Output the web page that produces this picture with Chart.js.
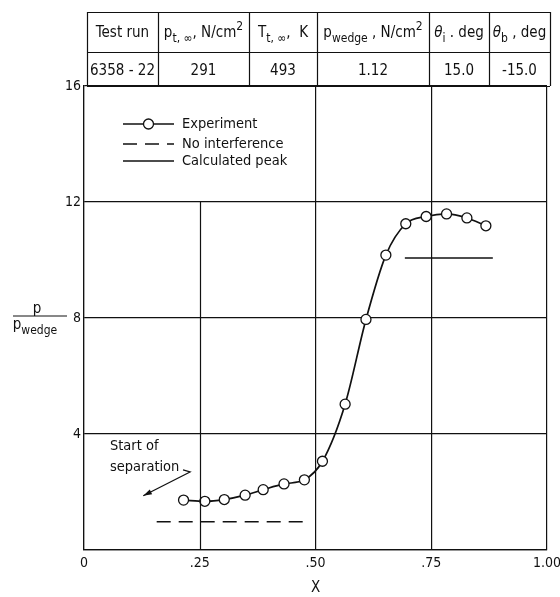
<!DOCTYPE html>
<html><head><meta charset="utf-8">
<script src="https://cdn.jsdelivr.net/npm/chart.js@4.4.1/dist/chart.umd.min.js"></script>
<style>html,body{margin:0;padding:0;background:#fff;overflow:hidden;}canvas{display:block;}</style>
</head><body>
<canvas id="c" width="560" height="597"></canvas>
<script>
// ---- data ----
const expX = [0.215, 0.261, 0.303, 0.348, 0.387, 0.432, 0.476, 0.515, 0.564, 0.609, 0.652, 0.695, 0.739, 0.783, 0.827, 0.868];
const expY = [1.72, 1.68, 1.74, 1.89, 2.08, 2.28, 2.42, 3.06, 5.03, 7.95, 10.17, 11.25, 11.50, 11.59, 11.45, 11.18];
const noInterfX = [0.157, 0.484];
const noInterfY = [0.97, 0.97];
const peakX = [0.693, 0.883];
const peakY = [10.07, 10.07];
const xTickLabels = ['0', '.25', '.50', '.75', '1.00'];
const yTickLabels = ['', '4', '8', '12', '16'];
const legendLabels = ['Experiment', 'No interference', 'Calculated peak'];
const tableHeaders = [
  [{t:'Test run'}],
  [{t:'p'},{t:'t, \u221E',s:'sub'},{t:', N/cm'},{t:'2',s:'sup'}],
  [{t:'T'},{t:'t, \u221E',s:'sub'},{t:',  K'}],
  [{t:'p'},{t:'wedge',s:'sub'},{t:' , N/cm'},{t:'2',s:'sup'}],
  [{t:'\u03B8',i:true},{t:'i',s:'sub'},{t:' . deg'}],
  [{t:'\u03B8',i:true},{t:'b',s:'sub'},{t:' , deg'}]
];
const tableValues = ['6358 - 22', '291', '493', '1.12', '15.0', '-15.0'];
const annotText = ['Start of', 'separation'];
const annotPos = [[0.056, 3.57], [0.056, 2.85]];
const arrowFrom = [0.229, 2.69];
const arrowTo = [0.128, 1.87];

const FONT = "'Liberation Sans Narrow','DejaVu Sans Condensed','Liberation Sans',sans-serif";
const INK = '#111';

function drawRich(ctx, segs, cx, by, size) {
  const fontOf = (sg) => {
    const sz = sg.s ? Math.round(size * 0.8) : size;
    return (sg.i ? 'italic ' : '') + sz + 'px ' + FONT;
  };
  let w = 0;
  segs.forEach(sg => { ctx.font = fontOf(sg); w += ctx.measureText(sg.t).width; });
  let x = cx - w / 2;
  ctx.textAlign = 'left';
  ctx.textBaseline = 'alphabetic';
  segs.forEach(sg => {
    ctx.font = fontOf(sg);
    const dy = sg.s === 'sub' ? size * 0.32 : (sg.s === 'sup' ? -size * 0.45 : 0);
    ctx.fillText(sg.t, x, by + dy);
    x += ctx.measureText(sg.t).width;
  });
}

const decor = {
  id: 'decor',
  afterDraw(chart) {
    const ctx = chart.ctx, xs = chart.scales.x, ys = chart.scales.y, ca = chart.chartArea;
    ctx.save();
    ctx.strokeStyle = INK; ctx.fillStyle = INK; ctx.lineWidth = 1.2;
    // partial .25 grid line (below legend)
    const gx = Math.round(xs.getPixelForValue(0.25)) + 0.5;
    ctx.beginPath(); ctx.moveTo(gx, ys.getPixelForValue(12)); ctx.lineTo(gx, ys.getPixelForValue(0)); ctx.stroke();

    // table
    const cols = [87, 158, 249, 317, 429, 489, 550];
    const rows = [12, 52, ca.top];
    ctx.lineWidth = 1.2;
    ctx.beginPath();
    rows.forEach(r => { ctx.moveTo(cols[0], r + 0.5); ctx.lineTo(cols[6], r + 0.5); });
    cols.forEach(c => { ctx.moveTo(c + 0.5, rows[0]); ctx.lineTo(c + 0.5, rows[2]); });
    ctx.stroke();
    for (let i = 0; i < 6; i++) {
      const cx = (cols[i] + cols[i + 1]) / 2;
      drawRich(ctx, tableHeaders[i], cx, 37, 15);
      ctx.font = '15px ' + FONT; ctx.textAlign = 'center'; ctx.textBaseline = 'alphabetic';
      ctx.fillText(tableValues[i], cx, 75);
    }

    // legend
    const lx0 = ca.left + 39, lx1 = ca.left + 90, tx = ca.left + 98;
    const ly = [ca.top + 38, ca.top + 58, ca.top + 75];
    ctx.lineWidth = 1.5;
    ctx.beginPath(); ctx.moveTo(lx0, ly[0]); ctx.lineTo(lx1, ly[0]); ctx.stroke();
    ctx.beginPath(); ctx.arc((lx0 + lx1) / 2, ly[0], 5, 0, Math.PI * 2);
    ctx.fillStyle = '#fff'; ctx.fill(); ctx.lineWidth = 1.3; ctx.stroke();
    ctx.fillStyle = INK; ctx.lineWidth = 1.5;
    ctx.setLineDash([14, 8]);
    ctx.beginPath(); ctx.moveTo(lx0, ly[1]); ctx.lineTo(lx1, ly[1]); ctx.stroke();
    ctx.setLineDash([]);
    ctx.beginPath(); ctx.moveTo(lx0, ly[2]); ctx.lineTo(lx1, ly[2]); ctx.stroke();
    ctx.font = '14.5px ' + FONT; ctx.textAlign = 'left'; ctx.textBaseline = 'middle';
    legendLabels.forEach((t, i) => ctx.fillText(t, tx, ly[i]));

    // annotation
    ctx.font = '14.5px ' + FONT;
    annotText.forEach((t, i) => ctx.fillText(t, xs.getPixelForValue(annotPos[i][0]), ys.getPixelForValue(annotPos[i][1])));
    const ax0 = xs.getPixelForValue(arrowFrom[0]), ay0 = ys.getPixelForValue(arrowFrom[1]);
    const ax1 = xs.getPixelForValue(arrowTo[0]), ay1 = ys.getPixelForValue(arrowTo[1]);
    ctx.lineWidth = 1.3;
    ctx.beginPath(); ctx.moveTo(ax0 - 7, ay0 - 2); ctx.lineTo(ax0, ay0); ctx.lineTo(ax1, ay1); ctx.stroke();
    const ang = Math.atan2(ay1 - ay0, ax1 - ax0);
    ctx.beginPath();
    ctx.moveTo(ax1, ay1);
    ctx.lineTo(ax1 - 9 * Math.cos(ang - 0.3), ay1 - 9 * Math.sin(ang - 0.3));
    ctx.lineTo(ax1 - 9 * Math.cos(ang + 0.3), ay1 - 9 * Math.sin(ang + 0.3));
    ctx.closePath(); ctx.fill();

    // y-axis title (fraction)
    const fy = ys.getPixelForValue(8) - 2;
    ctx.lineWidth = 1;
    ctx.beginPath(); ctx.moveTo(13, fy); ctx.lineTo(67, fy); ctx.stroke();
    ctx.font = '15px ' + FONT; ctx.textAlign = 'center'; ctx.textBaseline = 'alphabetic';
    ctx.fillText('p', 37, fy - 3);
    drawRich(ctx, [{t:'p'},{t:'wedge',s:'sub'}], 35, fy + 13, 15);
    ctx.restore();
  }
};

new Chart(document.getElementById('c'), {
  type: 'scatter',
  data: {
    datasets: [
      { label: legendLabels[0], data: expX.map((x, i) => ({x, y: expY[i]})), showLine: true,
        borderColor: INK, borderWidth: 1.7, cubicInterpolationMode: 'monotone',
        pointRadius: 5, pointBackgroundColor: '#fff', pointBorderColor: INK, pointBorderWidth: 1.3, order: 0 },
      { label: legendLabels[1], data: noInterfX.map((x, i) => ({x, y: noInterfY[i]})), showLine: true,
        borderColor: INK, borderWidth: 1.5, borderDash: [14, 8], pointRadius: 0, order: 1 },
      { label: legendLabels[2], data: peakX.map((x, i) => ({x, y: peakY[i]})), showLine: true,
        borderColor: INK, borderWidth: 1.5, pointRadius: 0, order: 2 }
    ]
  },
  options: {
    responsive: false, animation: false,
    layout: { padding: { left: 0, right: 13, top: 86, bottom: 0 } },
    plugins: { legend: { display: false }, tooltip: { enabled: false } },
    scales: {
      x: {
        type: 'linear', min: 0, max: 1,
        afterFit(s) { s.height = 47; s.paddingLeft = 0; s.paddingRight = 0; },
        ticks: { stepSize: 0.25, autoSkip: false, maxRotation: 0, padding: 5, color: INK,
          font: { family: FONT, size: 14 },
          callback: (v, i) => xTickLabels[i] },
        grid: { drawTicks: false, lineWidth: 1.2, color: c => (c.tick && c.tick.value === 0.25) ? 'rgba(0,0,0,0)' : INK },
        border: { display: true, color: INK, width: 1.2 },
        title: { display: true, text: 'X', color: INK, font: { family: FONT, size: 15 }, padding: { top: 4, bottom: 0 } }
      },
      y: {
        type: 'linear', min: 0, max: 16,
        afterFit(s) { s.width = 84; s.paddingTop = 0; s.paddingBottom = 0; },
        ticks: { stepSize: 4, padding: 3, color: INK, font: { family: FONT, size: 14 },
          callback: (v, i) => yTickLabels[i] },
        grid: { drawTicks: false, lineWidth: 1.2, color: INK },
        border: { display: true, color: INK, width: 1.2 }
      }
    }
  },
  plugins: [decor]
});
</script>
</body></html>
